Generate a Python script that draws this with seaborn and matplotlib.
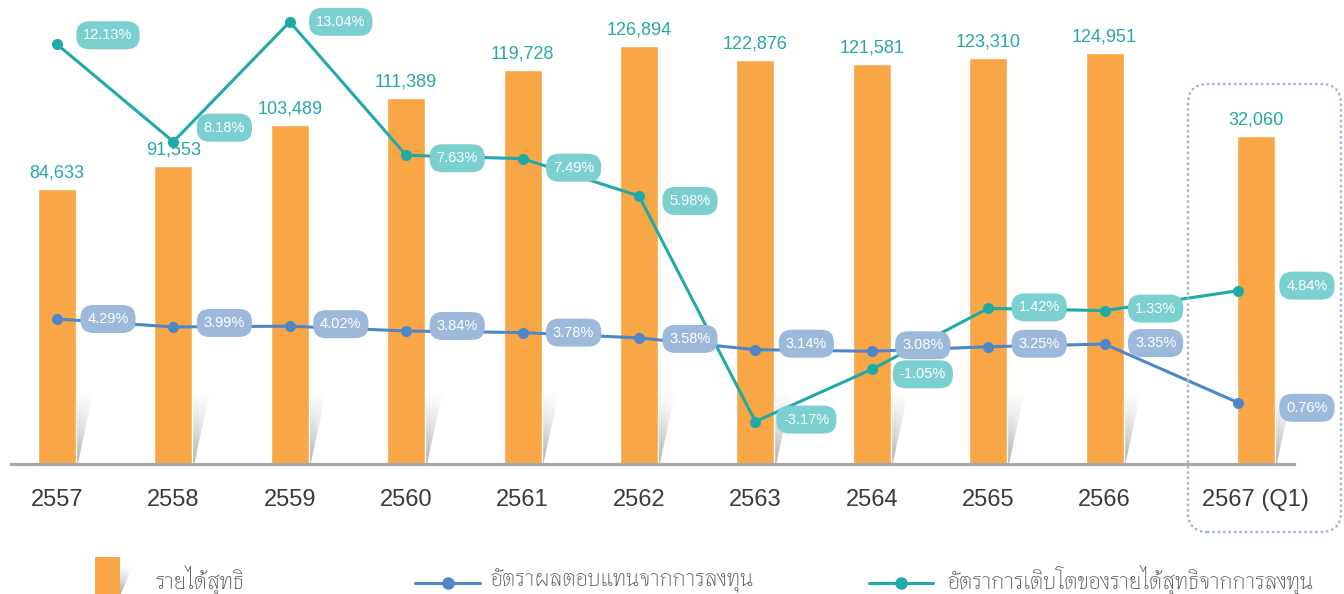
import matplotlib
matplotlib.use("Agg")
import numpy as np
import matplotlib.pyplot as plt
import seaborn as sns
from matplotlib.patches import Polygon, Rectangle, FancyBboxPatch
from matplotlib.lines import Line2D
from matplotlib.transforms import IdentityTransform

# ---- data -------------------------------------------------------------
years = ["2557", "2558", "2559", "2560", "2561", "2562", "2563", "2564",
         "2565", "2566", "2567 (Q1)"]
net_income = [84633, 91553, 103489, 111389, 119728, 126894, 122876, 121581,
              123310, 124951, 32060]
return_rate = [4.29, 3.99, 4.02, 3.84, 3.78, 3.58, 3.14, 3.08, 3.25, 3.35, 0.76]
growth_rate = [12.13, 8.18, 13.04, 7.63, 7.49, 5.98, -3.17, -1.05, 1.42, 1.33, 4.84]

# the Q1 column is drawn off-scale in the original chart: heights
q1_income_drawn = 100300
q1_return_drawn = 1.15
q1_growth_drawn = 2.14

legend_labels = ["รายได้สุทธิ", "อัตราผลตอบแทนจากการลงทุน",
                 "อัตราการเติบโตของรายได้สุทธิจากการลงทุน"]

# ---- layout -----------------------------------------------------------
pos = list(range(10)) + [10.3]
line_pos = list(range(10)) + [10.15]
# vertical nudge of the value pills (px, + is up)
growth_dy = [9, 14, 0, -3, -9, -5, 2, -5, 1, 2, 5]
return_dy = [0, 4, 2, 5, 0, -1, 6, 6, 3, 1, -5]

income_drawn = net_income[:-1] + [q1_income_drawn]
return_drawn = return_rate[:-1] + [q1_return_drawn]
growth_drawn = growth_rate[:-1] + [q1_growth_drawn]

ORANGE = "#f9a646"
BLUE = "#4e87c9"
TEAL = "#1faaa7"
BLUE_PILL = "#9cb9db"
TEAL_PILL = "#7bcfcf"
LABEL_TEAL = "#25a9a6"
PX = 0.72  # points per pixel at 100 dpi

sns.set_style("white")
plt.rcParams["font.family"] = ["Liberation Sans", "DejaVu Sans"]
thai = ["Thasadith", "DejaVu Sans"]

fig = plt.figure(figsize=(13.44, 5.94), dpi=100)
ax = fig.add_axes([11 / 1344, 130 / 594, 1283 / 1344, 464 / 594])
ax_b = ax.twinx()
ax_t = ax.twinx()

# bars
sns.barplot(x=pos, y=income_drawn, native_scale=True, width=0.327,
            color=ORANGE, saturation=1, errorbar=None, ax=ax, zorder=2)

xlim = (-0.395, 10.627)
ylim = (3370, 140485)

# soft shadow at the foot of each bar
shade = np.zeros((60, 40, 4))
yy = np.linspace(0, 1, 60)[:, None]
xx = np.linspace(0, 1, 40)[None, :]
shade[..., :3] = 0.45
shade[..., 3] = 0.6 * yy ** 1.2 * (1 - 0.5 * xx)
for p in pos:
    r = p + 0.1635
    w = 0.155
    top = 25500
    poly = Polygon([(r, ylim[0]), (r, top), (r + w, top), (r + 0.015, ylim[0])],
                   closed=True, transform=ax.transData)
    im = ax.imshow(shade, extent=[r, r + w, ylim[0], top], origin="upper",
                   aspect="auto", zorder=1, interpolation="bilinear")
    im.set_clip_path(poly)

# value labels over the bars (kept above the line markers)
for p, v, d in zip(pos, net_income, income_drawn):
    ax_t.annotate(f"{v:,}", xy=(p, d), xycoords=ax.transData,
                  xytext=(0, 16 * PX), textcoords="offset points",
                  ha="center", va="center", fontsize=13, color=LABEL_TEAL,
                  zorder=9, annotation_clip=False)

ax.set_xlim(*xlim)
ax.set_ylim(*ylim)
ax.set_xticks(pos)
ax.set_xticklabels(years)
ax.tick_params(axis="x", length=0, pad=18, labelsize=17, labelcolor="#3a3a3a")
ax.set_yticks([])
ax.set_xlabel("")
ax.set_ylabel("")
for s in ["top", "right", "left"]:
    ax.spines[s].set_visible(False)
ax.spines["bottom"].set_color("#a9a9a9")
ax.spines["bottom"].set_linewidth(2.3)
ax.spines["bottom"].set_zorder(5)

# lines
sns.lineplot(x=line_pos, y=return_drawn, ax=ax_b, color=BLUE, linewidth=2.2,
             marker="o", markersize=8, markeredgewidth=0, sort=False)
sns.lineplot(x=line_pos, y=growth_drawn, ax=ax_t, color=TEAL, linewidth=2.2,
             marker="o", markersize=8, markeredgewidth=0, sort=False)
ax_b.set_ylim(-1.142, 16.236)
ax_t.set_ylim(-4.89, 13.925)
for a in (ax_b, ax_t):
    a.set_xlim(*xlim)
    a.set_yticks([])
    a.set_ylabel("")
    for s in a.spines.values():
        s.set_visible(False)

# value pills
def pill(p, v, d, dy, src, fc):
    ax_t.annotate(f"{v:.2f}%", xy=(p, d), xycoords=src.transData,
                  xytext=(51 * PX, dy * PX), textcoords="offset points",
                  ha="center", va="center", fontsize=10.5, color="white",
                  bbox=dict(boxstyle="round,pad=0.48,rounding_size=0.9",
                            fc=fc, ec="none"),
                  zorder=10, annotation_clip=False)

for p, v, d, dy in zip(pos, return_rate, return_drawn, return_dy):
    pill(p, v, d, dy, ax_b, BLUE_PILL)
for p, v, d, dy in zip(pos, growth_rate, growth_drawn, growth_dy):
    pill(p, v, d, dy, ax_t, TEAL_PILL)

# dotted frame around the Q1 column
frame = FancyBboxPatch((1188, 62), 153, 448,
                       boxstyle="round,pad=0,rounding_size=20",
                       transform=IdentityTransform(), fill=False,
                       ec="#9fb6da", lw=2.0, ls=(0, (0.05, 1.9)))
frame.set_capstyle("round")
fig.patches.append(frame)

# legend
fig.patches.append(Rectangle((95, 0), 25, 37, transform=IdentityTransform(),
                             fc=ORANGE, ec="none"))
leg_shade = fig.add_axes([120 / 1344, 0, 14 / 1344, 30 / 594])
leg_shade.imshow(shade, extent=[0, 1, 0, 1], origin="upper", aspect="auto",
                 interpolation="bilinear")
leg_shade.set_xlim(0, 1)
leg_shade.set_ylim(0, 1)
leg_shade.axis("off")
leg_shade.images[0].set_clip_path(Polygon([(0, 0), (0, 1), (1, 1), (0.05, 0)],
                                          transform=leg_shade.transData))

fig.text(155 / 1344, 13 / 594, legend_labels[0], family=thai, fontsize=17,
         color="#555555", va="center")
for x0, x1, c, tx, lab in [(415, 480, BLUE, 490, legend_labels[1]),
                           (869, 933, TEAL, 947, legend_labels[2])]:
    fig.lines.append(Line2D([x0, x1], [11, 11], transform=IdentityTransform(),
                            color=c, lw=2.2))
    fig.lines.append(Line2D([(x0 + x1) / 2], [11], transform=IdentityTransform(),
                            color=c, marker="o", markersize=9, markeredgewidth=0))
    fig.text(tx / 1344, 13 / 594, lab, family=thai, fontsize=17,
             color="#555555", va="center")

fig.savefig("out.png", dpi=100)
